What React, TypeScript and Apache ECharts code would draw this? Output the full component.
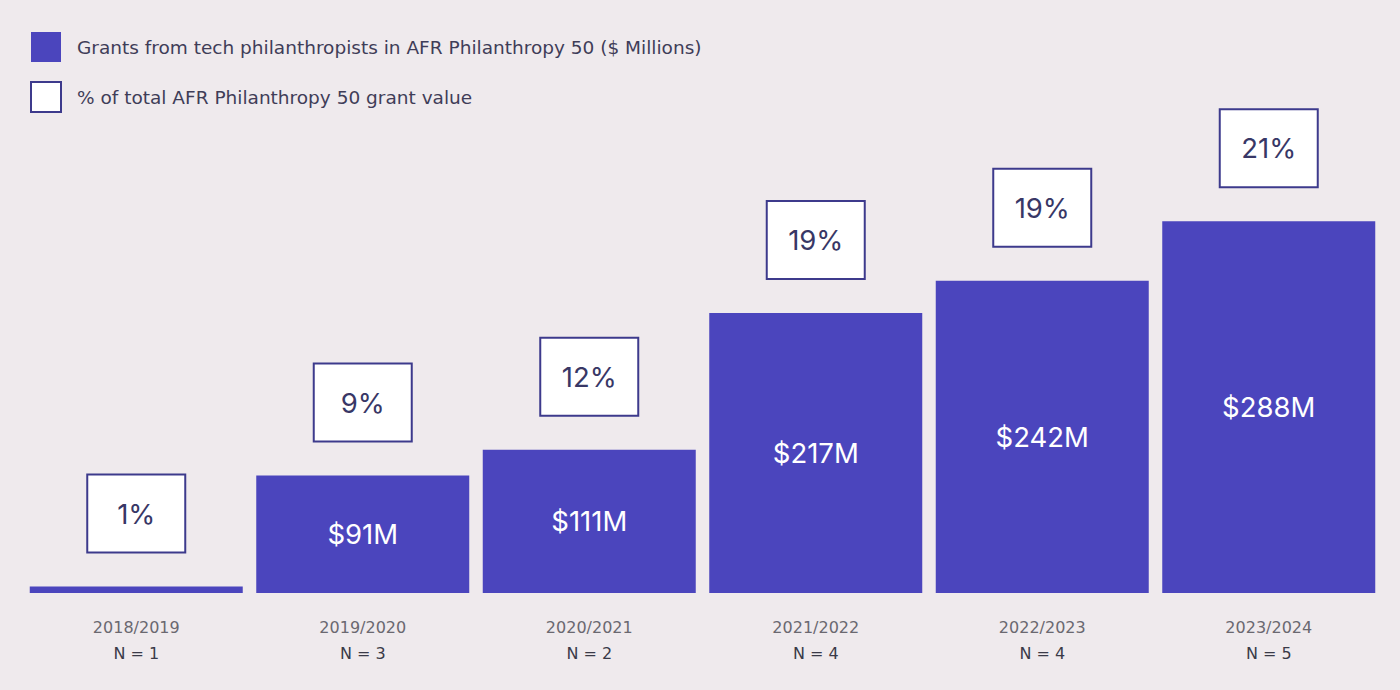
import React, { useEffect, useRef } from "react";
import * as echarts from "echarts";

const categories = ["2018/2019", "2019/2020", "2020/2021", "2021/2022", "2022/2023", "2023/2024"];
const counts = [1, 3, 2, 4, 4, 5];
const grants = [5, 91, 111, 217, 242, 288];
const showGrantLabel = [false, true, true, true, true, true];
const shares = [1, 9, 12, 19, 19, 21];

const SERIES_GRANTS = "Grants from tech philanthropists in AFR Philanthropy 50 ($ Millions)";
const SERIES_SHARE = "% of total AFR Philanthropy 50 grant value";

const PURPLE = "#4b45bd";
const BORDER = "#3d3a8c";
const FONT = "Inter, 'Noto Sans', sans-serif";
const WIDE = "'DejaVu Sans', sans-serif";

export default function App() {
  const ref = useRef<HTMLDivElement>(null);
  useEffect(() => {
    if (!ref.current) return;
    const chart = echarts.init(ref.current, undefined, { renderer: "svg" });
    chart.setOption({
      animation: false,
      backgroundColor: "#efeaed",
      textStyle: { fontFamily: FONT },
      legend: {
        orient: "vertical",
        left: 30,
        top: 32,
        padding: 0,
        itemWidth: 30,
        itemHeight: 30,
        itemGap: 19,
        icon: "rect",
        selectedMode: false,
        textStyle: { fontSize: 18.5, color: "#3f3d58", fontFamily: WIDE, padding: [0, 0, 0, 11] },
        data: [
          { name: SERIES_GRANTS, itemStyle: { color: PURPLE } },
          { name: SERIES_SHARE, itemStyle: { color: "#ffffff", borderColor: BORDER, borderWidth: 2 } },
        ],
      },
      grid: { left: 23, right: 18, top: 100, bottom: 97 },
      xAxis: {
        type: "category",
        data: categories,
        axisLine: { show: false },
        axisTick: { show: false },
        axisLabel: {
          margin: 21,
          formatter: (v: string, i: number) => `{y|${v}}\n{n|N = ${counts[i]}}`,
          rich: {
            y: { fontSize: 16, color: "#6a6870", lineHeight: 26, fontFamily: WIDE },
            n: { fontSize: 16, color: "#3a3a48", lineHeight: 26, fontFamily: WIDE },
          },
        },
      },
      yAxis: { type: "value", min: 0, max: 382, show: false, splitLine: { show: false } },
      series: [
        {
          name: SERIES_GRANTS,
          type: "bar",
          data: grants,
          barWidth: 213,
          itemStyle: { color: PURPLE },
          label: {
            show: true,
            position: "inside",
            formatter: (p: any) => (showGrantLabel[p.dataIndex] ? `$${p.value}M` : ""),
            color: "#ffffff",
            fontSize: 27.5,
            fontFamily: FONT,
          },
        },
        {
          name: SERIES_SHARE,
          type: "bar",
          data: grants,
          barWidth: 213,
          barGap: "-100%",
          itemStyle: { color: "rgba(0,0,0,0)" },
          silent: true,
          label: {
            show: true,
            position: "top",
            distance: 73,
            formatter: (p: any) => `${shares[p.dataIndex]}%`,
            color: "#383766",
            fontSize: 27.5,
            fontFamily: FONT,
            backgroundColor: "#ffffff",
            borderColor: BORDER,
            borderWidth: 2,
            width: 96,
            height: 76,
            lineHeight: 76,
            align: "center",
            verticalAlign: "middle",
          },
        },
      ],
    });
    return () => chart.dispose();
  }, []);
  return <div ref={ref} style={{ position: "fixed", left: 0, top: 0, width: 1400, height: 690 }} />;
}
